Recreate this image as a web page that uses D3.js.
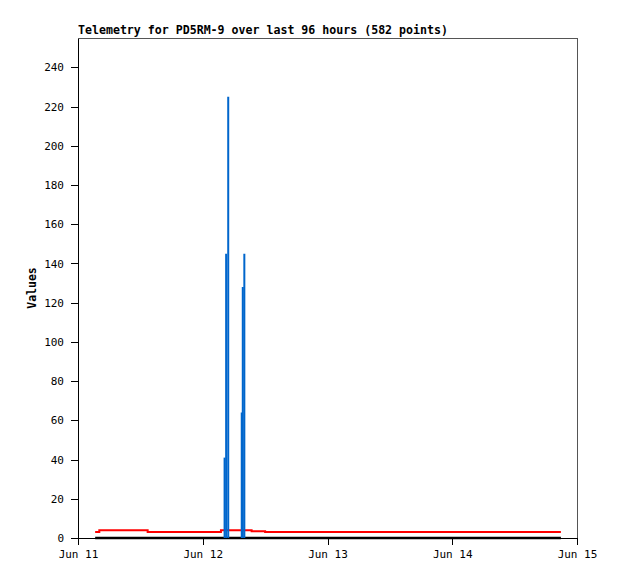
<!DOCTYPE html>
<html>
<head>
<meta charset="utf-8">
<script src="https://cdn.jsdelivr.net/npm/d3@7"></script>
<style>
body { margin: 0; background: #fff; }
text { font-family: "DejaVu Sans Mono", monospace; }
</style>
</head>
<body>
<div class="chart"></div>
<script>
var svgWidth = 618;
var svgHeight = 579;

var margin = {top: 38, right: 41, bottom: 41, left: 78};

var width = svgWidth - margin.left - margin.right;
var height = svgHeight - margin.top - margin.bottom;

var titleText = "Telemetry for PD5RM-9 over last 96 hours (582 points)";
var yLabel = "Values";

var xTickDates = ["2023-06-11", "2023-06-12", "2023-06-13", "2023-06-14", "2023-06-15"];
var yTicks = [0, 20, 40, 60, 80, 100, 120, 140, 160, 180, 200, 220, 240];

// hours since Jun 11 00:00
var redHours = [3.3, 4.1, 13.4, 27.5, 33.4, 36.0, 92.9];
var redValues = [3, 4, 3, 4, 3.5, 3, 3];

var blackHours = [3.3, 92.9];
var blackValues = [0, 0];

var blueHours = [28.2, 28.5, 28.9, 31.5, 31.7, 32.0];
var blueValues = [41, 145, 225, 64, 128, 145];

var t0 = new Date(2023, 5, 11);
function hoursToDate(h) { return new Date(t0.getTime() + h * 3600 * 1000); }

var svg = d3.select(".chart")
    .append("svg")
    .attr("width", svgWidth)
    .attr("height", svgHeight);

var chart = svg.append("g")
    .attr("transform", "translate(" + margin.left + "," + margin.top + ")");

var xScale = d3.scaleTime()
    .domain([t0, new Date(2023, 5, 15)])
    .range([0, width]);

var yScale = d3.scaleLinear()
    .domain([0, 255])
    .range([height, 0]);

// frame
chart.append("rect")
    .attr("x", 0)
    .attr("y", 0)
    .attr("width", width)
    .attr("height", height)
    .attr("fill", "none")
    .attr("stroke", "#555")
    .attr("stroke-width", 1)
    .attr("shape-rendering", "crispEdges");

var xAxis = d3.axisBottom(xScale)
    .tickValues(xTickDates.map(function(d) { return d3.timeParse("%Y-%m-%d")(d); }))
    .tickFormat(d3.timeFormat("%b %d"))
    .tickSizeInner(7)
    .tickSizeOuter(0)
    .tickPadding(5);

var yAxis = d3.axisLeft(yScale)
    .tickValues(yTicks)
    .tickSizeInner(7)
    .tickSizeOuter(0)
    .tickPadding(7);

var gx = chart.append("g")
    .attr("transform", "translate(0," + height + ")")
    .call(xAxis);

var gy = chart.append("g")
    .call(yAxis);

[gx, gy].forEach(function(g) {
    g.selectAll("path, line")
        .attr("stroke", "#000")
        .attr("shape-rendering", "crispEdges");
    g.selectAll("text")
        .attr("fill", "#000")
        .style("font-size", "11px")
        .style("font-family", "'DejaVu Sans Mono', monospace");
});

// series
var redPts = redHours.map(function(h, i) { return [hoursToDate(h), redValues[i]]; });
var blackPts = blackHours.map(function(h, i) { return [hoursToDate(h), blackValues[i]]; });

var stepLine = d3.line()
    .x(function(d) { return xScale(d[0]); })
    .y(function(d) { return yScale(d[1]); })
    .curve(d3.curveStepAfter);

chart.append("path")
    .datum(blackPts)
    .attr("d", stepLine)
    .attr("fill", "none")
    .attr("stroke", "#000")
    .attr("stroke-width", 2.5);

chart.append("path")
    .datum(redPts)
    .attr("d", stepLine)
    .attr("fill", "none")
    .attr("stroke", "#ff0000")
    .attr("stroke-width", 2);

chart.selectAll(".blue")
    .data(blueHours)
    .enter()
    .append("line")
    .attr("class", "blue")
    .attr("x1", function(d) { return xScale(hoursToDate(d)); })
    .attr("x2", function(d) { return xScale(hoursToDate(d)); })
    .attr("y1", yScale(0))
    .attr("y2", function(d, i) { return yScale(blueValues[i]); })
    .attr("stroke", "#0066cc")
    .attr("stroke-width", 2);

// title
svg.append("text")
    .attr("x", margin.left)
    .attr("y", margin.top - 4)
    .style("font-size", "11.6px")
    .style("font-weight", "bold")
    .text(titleText);

// y label
svg.append("text")
    .attr("transform", "translate(36," + (margin.top + height / 2) + ") rotate(-90)")
    .attr("text-anchor", "middle")
    .style("font-size", "11.5px")
    .style("font-weight", "bold")
    .text(yLabel);
</script>
</body>
</html>
